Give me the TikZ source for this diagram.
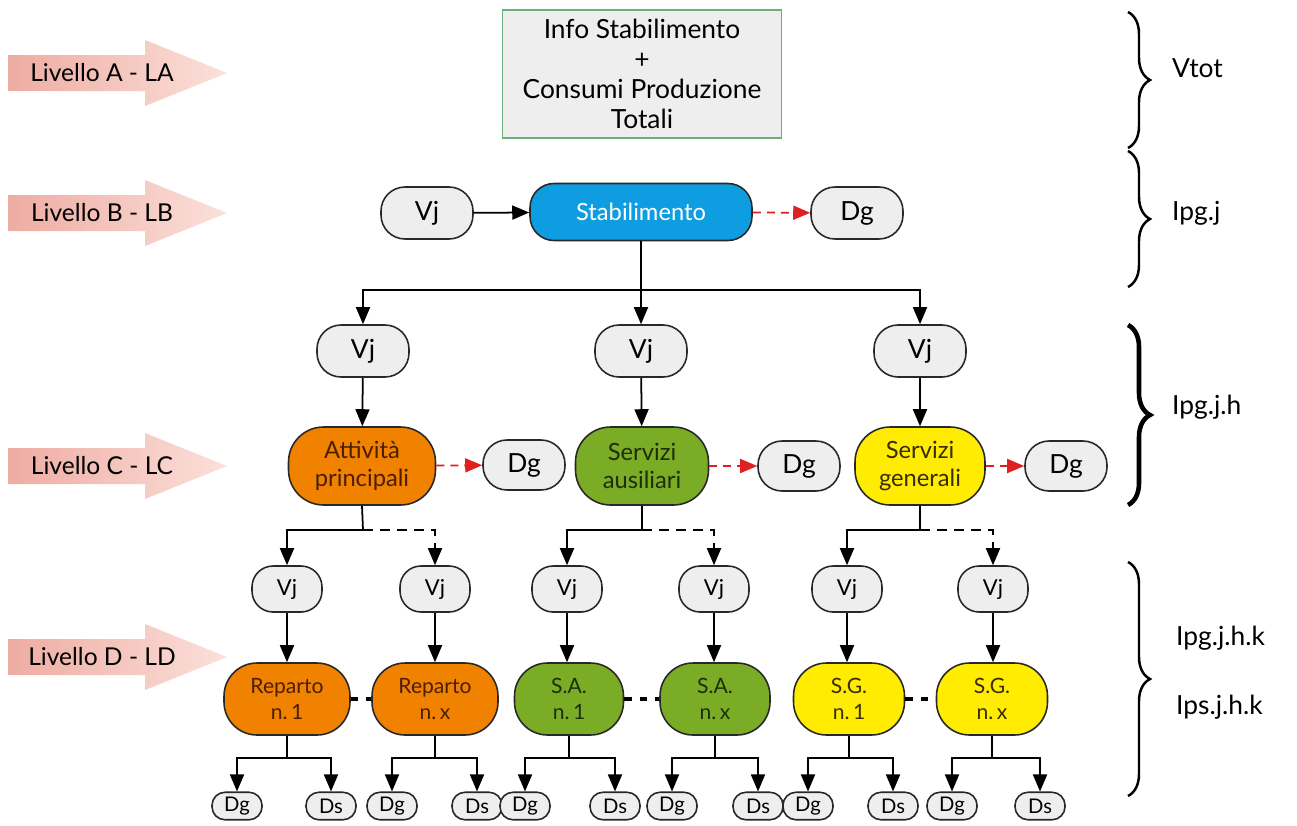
\documentclass[tikz,border=0pt]{standalone}
\usepackage{fontspec}
\setmainfont{Lato}
\usepackage{xcolor}
\usepackage{tikz}
\usetikzlibrary{arrows.meta, positioning, decorations.pathreplacing}
\definecolor{nodegray}{RGB}{238,238,238}
\definecolor{edgegray}{RGB}{40,40,40}
\definecolor{stabblue}{RGB}{14,157,224}
\definecolor{attorange}{RGB}{240,130,0}
\definecolor{ausgreen}{RGB}{122,172,38}
\definecolor{genyellow}{RGB}{255,236,0}
\definecolor{arrowpink}{RGB}{238,172,162}
\definecolor{arrowpinklight}{RGB}{251,224,218}
\definecolor{boxgreen}{RGB}{110,175,120}
\definecolor{dashred}{RGB}{222,32,32}

\begin{document}
\begin{tikzpicture}[
    x=0.02cm, y=-0.02cm,
    pill/.style={rectangle, draw=edgegray, line width=0.9pt, fill=nodegray, rounded corners=0.48cm, minimum width=1.84cm, minimum height=1.04cm, align=center, font=\fontsize{15}{17}\selectfont},
    smallpill/.style={pill, rounded corners=0.42cm, minimum width=1.4cm, minimum height=0.92cm, font=\fontsize{12.5}{14}\selectfont},
    tinypill/.style={pill, rounded corners=0.26cm, minimum width=1cm, minimum height=0.55cm, inner sep=1pt, font=\fontsize{11.5}{13}\selectfont},
    areabox/.style={rectangle, draw=edgegray, line width=0.9pt, rounded corners=0.7cm, minimum height=1.56cm, align=center, font=\fontsize{13.5}{16}\selectfont},
    unitbox/.style={rectangle, draw=edgegray, line width=0.9pt, rounded corners=0.66cm, minimum height=1.44cm, align=center, font=\fontsize{12}{15}\selectfont},
    arrow/.style={-{Triangle[length=3.4mm, width=2.8mm]}, line width=1pt, black},
    redarrow/.style={-{Triangle[length=3.4mm, width=2.8mm]}, line width=1pt, dash pattern=on 1.6mm off 1.2mm, dashred},
    link/.style={line width=2.2pt, dash pattern=on 1.5mm off 1.6mm, black},
    brace/.style={decorate, decoration={brace, amplitude=0.44cm}, line width=1.4pt},
    levtext/.style={font=\fontsize{14}{16}\selectfont},
    sidetext/.style={anchor=west, font=\fontsize{15}{17}\selectfont}
]
    \useasboundingbox (0,0) rectangle (1297,825);

    % Level arrows on the left
    \foreach \ly/\lname in {73/A, 213/B, 466/C, 657/D} {
        \shade[left color=arrowpink, right color=arrowpinklight]
            (8,\ly-18) -- (145,\ly-18) -- (145,\ly-33) -- (227,\ly) -- (145,\ly+33) -- (145,\ly+18) -- (8,\ly+18) -- cycle;
        \node[levtext] (lv\lname) at (102,\ly) {Livello \lname\ - L\lname};
    }

    % Level A
    \node[rectangle, draw=boxgreen, thick, fill=nodegray, minimum width=5.58cm, minimum height=2.56cm, align=center, font=\fontsize{15}{17}\selectfont] (info) at (642,74) {Info Stabilimento\\+\\Consumi Produzione\\Totali};

    % Level B
    \node[pill] (vjB) at (427,213) {Vj};
    \node[pill, fill=stabblue, text=white, minimum width=4.44cm, minimum height=1.14cm, font=\fontsize{13.5}{16}\selectfont] (stab) at (641,212) {Stabilimento};
    \node[pill] (dgB) at (857,213) {Dg};
    \draw[arrow] (vjB) -- (stab);
    \draw[redarrow] (stab) -- (dgB);

    % Level C
    \node[pill] (vjC1) at (363,351) {Vj};
    \node[pill] (vjC2) at (641,351) {Vj};
    \node[pill] (vjC3) at (920,351) {Vj};
    \coordinate (busB) at (641,290);
    \draw[arrow] (stab.south) -- (busB) -| (vjC1.north);
    \draw[arrow] (busB) -| (vjC3.north);
    \draw[arrow] (stab.south) -- (vjC2.north);

    \node[areabox, fill=attorange, text={rgb,255:red,75;green,30;blue,0}, minimum width=2.94cm] (att) at (362,466) {Attività\\principali};
    \node[areabox, fill=ausgreen, text={rgb,255:red,30;green,45;blue,10}, minimum width=2.66cm] (aus) at (642,466) {Servizi\\ausiliari};
    \node[areabox, fill=genyellow, text={rgb,255:red,55;green,45;blue,0}, minimum width=2.6cm] (gen) at (920,466) {Servizi\\generali};
    \node[pill, minimum width=1.64cm, minimum height=1cm] (dgC1) at (524,465) {Dg};
    \node[pill, minimum width=1.64cm, minimum height=1cm] (dgC2) at (799,466) {Dg};
    \node[pill, minimum width=1.64cm, minimum height=1cm] (dgC3) at (1066,466) {Dg};
    \draw[arrow] (vjC1) -- (att);
    \draw[arrow] (vjC2) -- (aus);
    \draw[arrow] (vjC3) -- (gen);
    \draw[redarrow] (att) -- (dgC1);
    \draw[redarrow] (aus) -- (dgC2);
    \draw[redarrow] (gen) -- (dgC3);

    % Level D
    \node[smallpill] (vjD1) at (287,589) {Vj};
    \node[smallpill] (vjD2) at (435,589) {Vj};
    \node[smallpill] (vjD3) at (567,589) {Vj};
    \node[smallpill] (vjD4) at (714,589) {Vj};
    \node[smallpill] (vjD5) at (847,589) {Vj};
    \node[smallpill] (vjD6) at (993,589) {Vj};
    \coordinate (busC1) at (363,530);
    \coordinate (busC2) at (642,530);
    \coordinate (busC3) at (920,530);
    \draw[line width=1pt] (att.south) -- (busC1);
    \draw[line width=1pt] (aus.south) -- (busC2);
    \draw[line width=1pt] (gen.south) -- (busC3);
    \draw[arrow] (busC1) -| (vjD1.north);
    \draw[arrow, dash pattern=on 2mm off 1.4mm] (busC1) -| (vjD2.north);
    \draw[arrow] (busC2) -| (vjD3.north);
    \draw[arrow, dash pattern=on 2mm off 1.4mm] (busC2) -| (vjD4.north);
    \draw[arrow] (busC3) -| (vjD5.north);
    \draw[arrow, dash pattern=on 2mm off 1.4mm] (busC3) -| (vjD6.north);

    \node[unitbox, fill=attorange, text={rgb,255:red,75;green,30;blue,0}, minimum width=2.52cm] (rep1) at (287,699) {Reparto\\n.\,1};
    \node[unitbox, fill=attorange, text={rgb,255:red,75;green,30;blue,0}, minimum width=2.52cm] (repx) at (435,699) {Reparto\\n.\,x};
    \node[unitbox, fill=ausgreen, text={rgb,255:red,30;green,45;blue,10}, minimum width=2.18cm] (sa1) at (569,699) {S.A.\\n.\,1};
    \node[unitbox, fill=ausgreen, text={rgb,255:red,30;green,45;blue,10}, minimum width=2.2cm] (sax) at (715,699) {S.A.\\n.\,x};
    \node[unitbox, fill=genyellow, text={rgb,255:red,55;green,45;blue,0}, minimum width=2.22cm] (sg1) at (849,699) {S.G.\\n.\,1};
    \node[unitbox, fill=genyellow, text={rgb,255:red,55;green,45;blue,0}, minimum width=2.22cm] (sgx) at (992,699) {S.G.\\n.\,x};
    \draw[arrow] (vjD1) -- (rep1);
    \draw[arrow] (vjD2) -- (repx);
    \draw[arrow] (vjD3) -- (vjD3 |- sa1.north);
    \draw[arrow] (vjD4) -- (vjD4 |- sax.north);
    \draw[arrow] (vjD5) -- (vjD5 |- sg1.north);
    \draw[arrow] (vjD6) -- (vjD6 |- sgx.north);
    \draw[link] (rep1) -- (repx);
    \draw[link] (sa1) -- (sax);
    \draw[link] (sg1) -- (sgx);

    % Dg / Ds at the bottom
    \node[tinypill] (dg1) at (237,806) {Dg};
    \node[tinypill] (ds1) at (331,806) {Ds};
    \node[tinypill] (dg2) at (392,806) {Dg};
    \node[tinypill] (ds2) at (477,806) {Ds};
    \node[tinypill] (dg3) at (525,806) {Dg};
    \node[tinypill] (ds3) at (615,806) {Ds};
    \node[tinypill] (dg4) at (672,806) {Dg};
    \node[tinypill] (ds4) at (758,806) {Ds};
    \node[tinypill] (dg5) at (808,806) {Dg};
    \node[tinypill] (ds5) at (893,806) {Ds};
    \node[tinypill] (dg6) at (952,806) {Dg};
    \node[tinypill] (ds6) at (1040,806) {Ds};
    \draw[arrow] (rep1.south) -- ++(0,22) -| (dg1.north);
    \draw[arrow] (rep1.south) -- ++(0,22) -| (ds1.north);
    \draw[arrow] (repx.south) -- ++(0,22) -| (dg2.north);
    \draw[arrow] (repx.south) -- ++(0,22) -| (ds2.north);
    \draw[arrow] (sa1.south) -- ++(0,22) -| (dg3.north);
    \draw[arrow] (sa1.south) -- ++(0,22) -| (ds3.north);
    \draw[arrow] (sax.south) -- ++(0,22) -| (dg4.north);
    \draw[arrow] (sax.south) -- ++(0,22) -| (ds4.north);
    \draw[arrow] (sg1.south) -- ++(0,22) -| (dg5.north);
    \draw[arrow] (sg1.south) -- ++(0,22) -| (ds5.north);
    \draw[arrow] (sgx.south) -- ++(0,22) -| (dg6.north);
    \draw[arrow] (sgx.south) -- ++(0,22) -| (ds6.north);

    % Braces on the right
    \draw[brace] (1128,12) -- (1128,148);
    \draw[brace] (1128,151) -- (1128,287);
    \draw[brace, line width=2.6pt] (1128,325) -- (1128,505);
    \draw[brace] (1128,562) -- (1128,796);
    \node[sidetext] (vtot) at (1166,68) {Vtot};
    \node[sidetext] (ipgj) at (1166,213) {Ipg.j};
    \node[sidetext] (ipgjh) at (1166,407) {Ipg.j.h};
    \node[sidetext] (ipgjhk) at (1170,638) {Ipg.j.h.k};
    \node[sidetext] (ipsjhk) at (1170,707) {Ips.j.h.k};
\end{tikzpicture}
\end{document}
